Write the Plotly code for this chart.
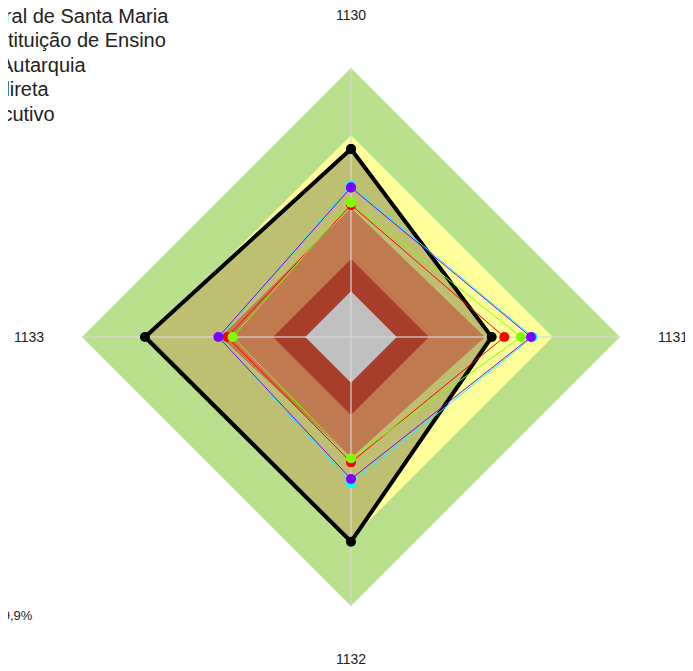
import math
import plotly.graph_objects as go

categories = ["1130", "1131", "1132", "1133"]

# background bands (outer limits, same scale as the series)
band_limits = [100, 75, 29, 17]
band_colors = ["#B9E08D", "#FFFF99", "#A83E2A", "#C0C0C0"]

series_names = [
    "Universidade Federal de Santa Maria",
    "Média Geral da Instituição de Ensino",
    "Média Geral - Tipo Autarquia",
    "Média da Adm. Indireta",
    "Média Poder Executivo",
]
series_colors = ["#000000", "#8000FF", "#00FFFF", "#80FF00", "#FF0000"]
ufsm = [69.9, 52.3, 76.1, 76.6]
instituicao = [55.6, 66.9, 52.8, 49.3]
autarquia = [56.3, 67.5, 54.4, 49.0]
indireta = [50.0, 63.2, 45.1, 44.0]
executivo = [49.1, 57.0, 46.6, 46.0]
series_values = [ufsm, instituicao, autarquia, indireta, executivo]

common_area = [48.0, 49.8, 45.0, 48.5]

note_lines = ["Média geral", "do grupo: 69,9%"]

OFF = 8  # page body margin
W, H = 693 - OFF, 671 - OFF
RAD = 308
R_MAX = 100 * RAD / 269
LABEL_DIST = 322

fig = go.Figure()

def closed(vals):
    return list(vals) + [vals[0]]

theta_c = closed(categories)

for lim, col in zip(band_limits[:2], band_colors[:2]):
    fig.add_trace(go.Scatterpolar(r=closed([lim] * 4), theta=theta_c, mode="lines",
                                  fill="toself", fillcolor=col, line=dict(width=0, color=col),
                                  showlegend=False, hoverinfo="skip"))

fig.add_trace(go.Scatterpolar(r=closed(ufsm), theta=theta_c, mode="lines", fill="toself",
                              fillcolor="rgba(0,0,0,0.25)", line=dict(width=0),
                              showlegend=False, hoverinfo="skip"))
fig.add_trace(go.Scatterpolar(r=closed(common_area), theta=theta_c, mode="lines", fill="toself",
                              fillcolor="#C07A50", line=dict(width=0),
                              showlegend=False, hoverinfo="skip"))
for lim, col in zip(band_limits[2:], band_colors[2:]):
    fig.add_trace(go.Scatterpolar(r=closed([lim] * 4), theta=theta_c, mode="lines",
                                  fill="toself", fillcolor=col, line=dict(width=0, color=col),
                                  showlegend=False, hoverinfo="skip"))
for c in categories:
    fig.add_trace(go.Scatterpolar(r=[0, band_limits[0]], theta=[c, c], mode="lines",
                                  line=dict(color="rgba(215,215,215,0.6)", width=2),
                                  showlegend=False, hoverinfo="skip"))

legend_ids = ["legend", "legend2", "legend3", "legend4", "legend5"]
draw_order = [0, 2, 4, 3, 1]
for i in draw_order:
    w = 4 if i == 0 else 1
    fig.add_trace(go.Scatterpolar(r=closed(series_values[i]), theta=theta_c, mode="lines+markers",
                                  name=series_names[i], legend=legend_ids[i],
                                  line=dict(color=series_colors[i], width=w),
                                  marker=dict(color=series_colors[i], size=10)))

for k, txt in enumerate(note_lines):
    fig.add_annotation(text=txt, xref="paper", yref="paper", x=-73 / W,
                       y=1 - (593 - OFF + 22 * k) / H,
                       xanchor="left", yanchor="middle", showarrow=False,
                       font=dict(family="Liberation Sans, Arial", size=13, color="#222222"))

cx, cy = 351 - OFF, 337 - OFF

# angular category labels (placed around the chart, clockwise from the top)
for k, cat in enumerate(categories):
    ang = math.pi / 2 - k * 2 * math.pi / len(categories)
    lx = cx + LABEL_DIST * math.cos(ang)
    ly = cy - LABEL_DIST * math.sin(ang)
    fig.add_annotation(text=cat, xref="paper", yref="paper", x=lx / W, y=1 - ly / H,
                       xanchor="center", yanchor="middle", showarrow=False,
                       font=dict(family="Liberation Sans, Arial", size=14, color="#222222"))

legend_x_px = [-211, -209, -217, -205, -199]
legend_layouts = {}
for k, lid in enumerate(legend_ids):
    top = (15 + 24.5 * k) - OFF - 19.5
    legend_layouts[lid] = dict(x=legend_x_px[k] / W, y=1 - top / H, xanchor="left", yanchor="top",
                               font=dict(size=20, color="#222222"), bgcolor="rgba(0,0,0,0)")

fig.update_layout(
    width=W, height=H,
    margin=dict(l=0, r=0, t=0, b=0, autoexpand=False),
    paper_bgcolor="white", plot_bgcolor="white",
    font=dict(family="Liberation Sans, Arial", color="#222222"),
    polar=dict(
        domain=dict(x=[(cx - RAD) / W, (cx + RAD) / W],
                    y=[(H - cy - RAD) / H, (H - cy + RAD) / H]),
        bgcolor="white",
        gridshape="linear",
        radialaxis=dict(visible=False, range=[0, R_MAX]),
        angularaxis=dict(type="category", categoryarray=categories, rotation=90,
                         direction="clockwise", showgrid=False, showline=False, ticks="",
                         showticklabels=False),
    ),
    showlegend=True,
    **legend_layouts,
)

fig.write_html("out.html")
